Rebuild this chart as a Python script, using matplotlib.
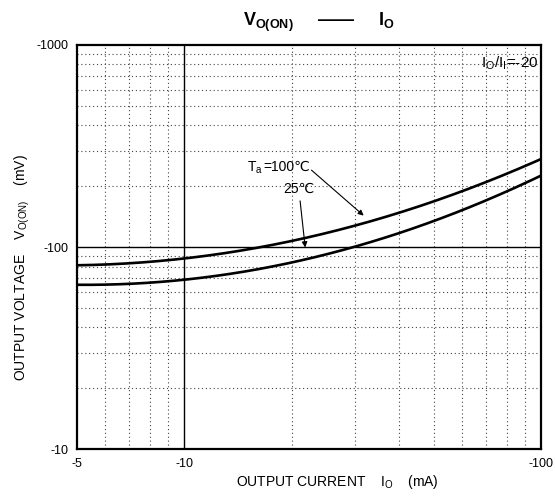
import numpy as np
import matplotlib.pyplot as plt
from matplotlib.ticker import FixedLocator, NullFormatter

plt.rcParams['font.family'] = ['Liberation Sans', 'DejaVu Sans']
plt.rcParams['mathtext.fontset'] = 'custom'
plt.rcParams['mathtext.rm'] = 'Liberation Sans'
plt.rcParams['mathtext.bf'] = 'Liberation Sans:bold'

# Data (magnitudes, mA / mV; axes labelled negative)
current = [5, 7, 10, 20, 30, 40, 50, 70, 100]
v_100c = [81, 83, 88, 108, 128, 148, 166, 207, 276]
v_25c = [65, 66, 69, 83, 99, 119, 136, 170, 224]

x_ticks = [5, 10, 100]
x_labels = ['-5', '-10', '-100']
y_ticks = [10, 100, 1000]
y_labels = ['-10', '-100', '-1000']

fig = plt.figure(figsize=(5.55, 4.98), dpi=100)
ax = fig.add_axes([0.139, 0.098, 0.836, 0.812])

# smooth the read points in log-log space
xs = np.logspace(np.log10(5), 2, 200)
for v in (v_100c, v_25c):
    p = np.polyfit(np.log10(current), np.log10(v), 2)
    ax.plot(xs, 10 ** np.polyval(p, np.log10(xs)), color='black', lw=1.9)

ax.set_xscale('log')
ax.set_yscale('log')
ax.set_xlim(5, 100)
ax.set_ylim(10, 1000)

ax.xaxis.set_major_locator(FixedLocator(x_ticks))
ax.set_xticklabels(x_labels)
ax.yaxis.set_major_locator(FixedLocator(y_ticks))
ax.set_yticklabels(y_labels)
ax.xaxis.set_minor_locator(FixedLocator([6, 7, 8, 9, 20, 30, 40, 50, 60, 70, 80, 90]))
ax.yaxis.set_minor_locator(FixedLocator([20, 30, 40, 50, 60, 70, 80, 90,
                                         200, 300, 400, 500, 600, 700, 800, 900]))
ax.xaxis.set_minor_formatter(NullFormatter())
ax.yaxis.set_minor_formatter(NullFormatter())
ax.tick_params(which='both', length=0, labelsize=9, pad=6)

ax.grid(which='minor', color='#444444', ls=(0, (1, 2.5)), lw=0.8)
ax.axvline(10, color='black', lw=1)
ax.axhline(100, color='black', lw=1)
for s in ax.spines.values():
    s.set_linewidth(1.6)

ax.set_xlabel(r'OUTPUT CURRENT    $\mathregular{I_O}$    (mA)', fontsize=10)
ax.set_ylabel(r'OUTPUT VOLTAGE    $\mathregular{V_{O(ON)}}$    (mV)', fontsize=10)
ax.yaxis.set_label_coords(-0.098, 0.45)
ax.xaxis.set_label_coords(0.56, -0.06)

fig.text(0.575, 0.955, r'$\mathbf{V_{O(ON)}}$     ——     $\mathbf{I_O}$', fontsize=13,
         ha='center', va='center', fontweight='bold')

ax.text(0.995, 0.955, r'$\mathregular{I_O/I_I}$=-20', transform=ax.transAxes,
        ha='right', va='center', fontsize=11)

# temperature labels with arrows
t1 = ax.text(15.0, 236, r'$\mathregular{T_a}$', fontsize=10, va='baseline')
ax.annotate('=100℃', xy=(1, 1), xycoords=t1, xytext=(0, 0),
            textcoords='offset points', ha='left', va='top', fontsize=10)
ax.annotate('', xy=(31.8, 143), xytext=(22.7, 240),
            arrowprops=dict(arrowstyle='-|>', color='black', lw=0.8,
                            shrinkA=0, shrinkB=0, mutation_scale=8))
ax.annotate('25℃', xy=(21.8, 99.5), xytext=(18.9, 195),
            fontsize=10, va='center',
            arrowprops=dict(arrowstyle='-|>', color='black', lw=0.8,
                            shrinkA=2, shrinkB=0, mutation_scale=8))

fig.savefig('out.png', dpi=100)
